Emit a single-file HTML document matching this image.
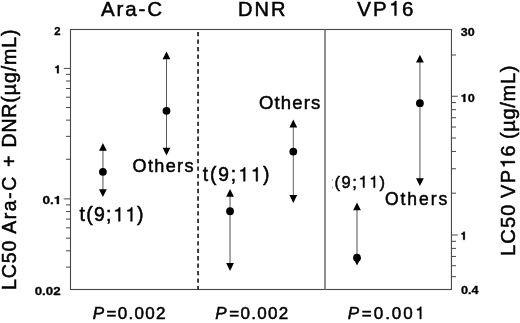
<!DOCTYPE html>
<html><head><meta charset="utf-8">
<style>
html,body{margin:0;padding:0;background:#fff;}
body{width:520px;height:323px;overflow:hidden;font-family:"Liberation Sans",sans-serif;}
svg{display:block;will-change:transform;transform:translateZ(0);}
text{font-family:"Liberation Sans",sans-serif;fill:#000;stroke:#000;stroke-width:0.5px;font-kerning:none;font-feature-settings:'kern' 0;}
.h{fill:none;stroke:none;}
.b{font-weight:bold;font-size:11.3px;stroke-width:0.3px;}
</style></head><body>
<svg width="520" height="323" viewBox="0 0 520 323">
<rect width="520" height="323" fill="#fff"/>
<rect x="70.5" y="29.5" width="380.95" height="260.00" fill="none" stroke="#484848" stroke-width="1.1"/>
<line x1="198.05" y1="32" x2="198.05" y2="289.5" stroke="#111" stroke-width="1.6" stroke-dasharray="4.3 3.17"/>
<line x1="325" y1="29.5" x2="325" y2="289.5" stroke="#6a6a6a" stroke-width="1.5"/>
<g stroke="#333" stroke-width="0.9">
<line x1="66" y1="74.35" x2="70.5" y2="74.35"/>
<line x1="66" y1="81.00" x2="70.5" y2="81.00"/>
<line x1="66" y1="88.54" x2="70.5" y2="88.54"/>
<line x1="66" y1="97.24" x2="70.5" y2="97.24"/>
<line x1="66" y1="107.53" x2="70.5" y2="107.53"/>
<line x1="66" y1="120.13" x2="70.5" y2="120.13"/>
<line x1="66" y1="136.37" x2="70.5" y2="136.37"/>
<line x1="66" y1="159.27" x2="70.5" y2="159.27"/>
<line x1="66" y1="204.87" x2="70.5" y2="204.87"/>
<line x1="66" y1="211.55" x2="70.5" y2="211.55"/>
<line x1="66" y1="219.11" x2="70.5" y2="219.11"/>
<line x1="66" y1="227.85" x2="70.5" y2="227.85"/>
<line x1="66" y1="238.18" x2="70.5" y2="238.18"/>
<line x1="66" y1="250.83" x2="70.5" y2="250.83"/>
<line x1="66" y1="267.14" x2="70.5" y2="267.14"/>
<line x1="63.8" y1="68.4" x2="70.5" y2="68.4"/>
<line x1="63.8" y1="198.9" x2="70.5" y2="198.9"/>
<line x1="451.45" y1="55.00" x2="456" y2="55.00"/>
<line x1="451.45" y1="102.60" x2="456" y2="102.60"/>
<line x1="451.45" y1="109.69" x2="456" y2="109.69"/>
<line x1="451.45" y1="117.73" x2="456" y2="117.73"/>
<line x1="451.45" y1="127.02" x2="456" y2="127.02"/>
<line x1="451.45" y1="138.00" x2="456" y2="138.00"/>
<line x1="451.45" y1="151.44" x2="456" y2="151.44"/>
<line x1="451.45" y1="168.77" x2="456" y2="168.77"/>
<line x1="451.45" y1="193.20" x2="456" y2="193.20"/>
<line x1="451.45" y1="241.30" x2="456" y2="241.30"/>
<line x1="451.45" y1="248.39" x2="456" y2="248.39"/>
<line x1="451.45" y1="256.43" x2="456" y2="256.43"/>
<line x1="451.45" y1="265.72" x2="456" y2="265.72"/>
<line x1="451.45" y1="276.70" x2="456" y2="276.70"/>
<line x1="451.45" y1="96.25" x2="457.75" y2="96.25"/>
<line x1="451.45" y1="235" x2="457.75" y2="235"/>
</g>
<line x1="102.9" y1="145.9" x2="102.9" y2="194.0" stroke="#8c8c8c" stroke-width="1.5"/>
<path d="M102.9 142.9l3.9 7.8h-7.8z M102.9 197.0l3.9 -7.8h-7.8z" fill="#000"/>
<circle cx="102.9" cy="171.8" r="3.9" fill="#000"/>
<line x1="166.5" y1="54.5" x2="166.5" y2="152.5" stroke="#5a5a5a" stroke-width="1.0"/>
<path d="M166.5 51.5l3.9 7.8h-7.8z M166.5 155.5l3.9 -7.8h-7.8z" fill="#000"/>
<circle cx="166.5" cy="110.8" r="3.9" fill="#000"/>
<line x1="230.05" y1="192.0" x2="230.05" y2="267.9" stroke="#a4a4a4" stroke-width="1.9"/>
<path d="M230.05 189.0l3.9 7.8h-7.8z M230.05 270.9l3.9 -7.8h-7.8z" fill="#000"/>
<circle cx="230.05" cy="211.25" r="3.9" fill="#000"/>
<line x1="293.3" y1="122.6" x2="293.3" y2="199.9" stroke="#666" stroke-width="1.0"/>
<path d="M293.3 119.6l3.9 7.8h-7.8z M293.3 202.9l3.9 -7.8h-7.8z" fill="#000"/>
<circle cx="293.3" cy="151.6" r="3.9" fill="#000"/>
<line x1="357.0" y1="205.4" x2="357.0" y2="262.6" stroke="#a4a4a4" stroke-width="1.9"/>
<path d="M357.0 202.4l3.9 7.8h-7.8z M357.0 265.6l3.9 -7.8h-7.8z" fill="#000"/>
<circle cx="357.0" cy="257.7" r="3.9" fill="#000"/>
<line x1="419.9" y1="57.7" x2="419.9" y2="183.0" stroke="#a4a4a4" stroke-width="1.9"/>
<path d="M419.9 54.7l3.9 7.8h-7.8z M419.9 186.0l3.9 -7.8h-7.8z" fill="#000"/>
<circle cx="419.9" cy="103.2" r="3.9" fill="#000"/>
<text x="101" y="16.3" font-size="20.5" textLength="61" lengthAdjust="spacing" >Ara-C</text>
<text x="238" y="15.6" font-size="20" textLength="47.5" lengthAdjust="spacing" >DNR</text>
<text x="357.3" y="15.6" font-size="20.5" textLength="56" lengthAdjust="spacing" >VP<tspan class="h">1</tspan>6</text>
<text x="79.5" y="221.3" font-size="19.5" textLength="64" lengthAdjust="spacing" >t(9;<tspan class="h">1</tspan><tspan class="h">1</tspan>)</text>
<text x="132.5" y="172.1" font-size="18" textLength="61" lengthAdjust="spacing" >Others</text>
<text x="202.8" y="181.2" font-size="19.3" textLength="66.5" lengthAdjust="spacing" >t(9;<tspan class="h">1</tspan><tspan class="h">1</tspan>)</text>
<text x="258.9" y="108.8" font-size="18.5" textLength="61.3" lengthAdjust="spacing" >Others</text>
<text x="334.6" y="187.6" font-size="16.5" textLength="50.3" lengthAdjust="spacing" >(9;<tspan class="h">1</tspan><tspan class="h">1</tspan>)</text>
<text x="384.9" y="205.1" font-size="17.5" textLength="62.4" lengthAdjust="spacing" >Others</text>
<rect x="332" y="179" width="1" height="1.8" fill="#999"/><rect x="332" y="186.7" width="1" height="1.8" fill="#999"/>
<text x="92.8" y="318.9" font-size="17" font-style="italic">P</text>
<text x="106.6" y="318.9" font-size="17" textLength="58.9" lengthAdjust="spacing" >=0.002</text>
<text x="215.2" y="318.9" font-size="17" font-style="italic">P</text>
<text x="229.3" y="318.9" font-size="17" textLength="59" lengthAdjust="spacing" >=0.002</text>
<text x="347.8" y="318.9" font-size="17" font-style="italic">P</text>
<text x="361.7" y="318.9" font-size="17" textLength="62.6" lengthAdjust="spacing" >=0.00<tspan class="h">1</tspan></text>
<text class="b" x="60.6" y="34.5" text-anchor="end">2</text>
<text class="b" x="60.9" y="73.3" text-anchor="end"><tspan class="h">1</tspan></text>
<text class="b" x="42.5" y="204.0" textLength="19.0" lengthAdjust="spacingAndGlyphs">0.<tspan class="h">1</tspan></text>
<text class="b" x="34.7" y="294.6" textLength="25.9" lengthAdjust="spacingAndGlyphs">0.02</text>
<text class="b" x="460.7" y="36.0" textLength="13.9" lengthAdjust="spacingAndGlyphs">30</text>
<text class="b" x="460.7" y="101.9" textLength="14.1" lengthAdjust="spacingAndGlyphs"><tspan class="h">1</tspan>0</text>
<text class="b" x="460.7" y="239.8"><tspan class="h">1</tspan></text>
<text class="b" x="460.9" y="294.1" textLength="17.7" lengthAdjust="spacingAndGlyphs">0.4</text>
<text transform="translate(15.7,290.0) rotate(-90)" font-size="19.5" textLength="49.4" lengthAdjust="spacing">LC50</text>
<text transform="translate(15.7,233.8) rotate(-90)" font-size="19.5" textLength="57.2" lengthAdjust="spacing">Ara-C</text>
<text transform="translate(15.7,167.1) rotate(-90)" font-size="19.5">+</text>
<text transform="translate(15.7,147.6) rotate(-90)" font-size="19.5" textLength="118" lengthAdjust="spacing">DNR(µg/mL)</text>
<text transform="translate(514.8,255.9) rotate(-90)" font-size="20" textLength="51.2" lengthAdjust="spacing">LC50</text>
<text transform="translate(514.8,197.9) rotate(-90)" font-size="20" textLength="52.5" lengthAdjust="spacing">VP<tspan class="h">1</tspan>6</text>
<text transform="translate(514.8,139.1) rotate(-90)" font-size="20" textLength="73.5" lengthAdjust="spacing">(µg/mL)</text>
<path d="M378 0L378 709L318 709C303 640 236 588 132 575L132 510L297 510L297 0Z" transform="translate(388.55,15.60) scale(0.02050,-0.02050)" fill="#000" stroke="#000" stroke-width="24.4" stroke-linejoin="round"/>
<path d="M378 0L378 709L318 709C303 640 236 588 132 575L132 510L297 510L297 0Z" transform="translate(112.76,221.30) scale(0.01950,-0.01950)" fill="#000" stroke="#000" stroke-width="25.6" stroke-linejoin="round"/>
<path d="M378 0L378 709L318 709C303 640 236 588 132 575L132 510L297 510L297 0Z" transform="translate(124.88,221.30) scale(0.01950,-0.01950)" fill="#000" stroke="#000" stroke-width="25.6" stroke-linejoin="round"/>
<path d="M378 0L378 709L318 709C303 640 236 588 132 575L132 510L297 510L297 0Z" transform="translate(237.83,181.20) scale(0.01930,-0.01930)" fill="#000" stroke="#000" stroke-width="25.9" stroke-linejoin="round"/>
<path d="M378 0L378 709L318 709C303 640 236 588 132 575L132 510L297 510L297 0Z" transform="translate(250.35,181.20) scale(0.01930,-0.01930)" fill="#000" stroke="#000" stroke-width="25.9" stroke-linejoin="round"/>
<path d="M378 0L378 709L318 709C303 640 236 588 132 575L132 510L297 510L297 0Z" transform="translate(358.17,187.60) scale(0.01650,-0.01650)" fill="#000" stroke="#000" stroke-width="30.3" stroke-linejoin="round"/>
<path d="M378 0L378 709L318 709C303 640 236 588 132 575L132 510L297 510L297 0Z" transform="translate(368.78,187.60) scale(0.01650,-0.01650)" fill="#000" stroke="#000" stroke-width="30.3" stroke-linejoin="round"/>
<path d="M378 0L378 709L318 709C303 640 236 588 132 575L132 510L297 510L297 0Z" transform="translate(414.83,318.90) scale(0.01700,-0.01700)" fill="#000" stroke="#000" stroke-width="29.4" stroke-linejoin="round"/>
<path d="M366 0L366 710L258 710C243 640 175 592 64 582L64 478L216 478L216 0Z" transform="translate(54.60,73.30) scale(0.01130,-0.01130)" fill="#000" stroke="#000" stroke-width="26.5" stroke-linejoin="round"/>
<path d="M366 0L366 710L258 710C243 640 175 592 64 582L64 478L216 478L216 0Z" transform="translate(53.89,204.00) scale(0.01366,-0.01130)" fill="#000" stroke="#000" stroke-width="26.5" stroke-linejoin="round"/>
<path d="M366 0L366 710L258 710C243 640 175 592 64 582L64 478L216 478L216 0Z" transform="translate(460.70,101.90) scale(0.01265,-0.01130)" fill="#000" stroke="#000" stroke-width="26.5" stroke-linejoin="round"/>
<path d="M366 0L366 710L258 710C243 640 175 592 64 582L64 478L216 478L216 0Z" transform="translate(460.70,239.80) scale(0.01130,-0.01130)" fill="#000" stroke="#000" stroke-width="26.5" stroke-linejoin="round"/>
<g transform="translate(514.8,197.9) rotate(-90)"><path d="M378 0L378 709L318 709C303 640 236 588 132 575L132 510L297 510L297 0Z" transform="translate(29.06,0.00) scale(0.02000,-0.02000)" fill="#000" stroke="#000" stroke-width="25.0" stroke-linejoin="round"/></g>
</svg>
</body></html>
